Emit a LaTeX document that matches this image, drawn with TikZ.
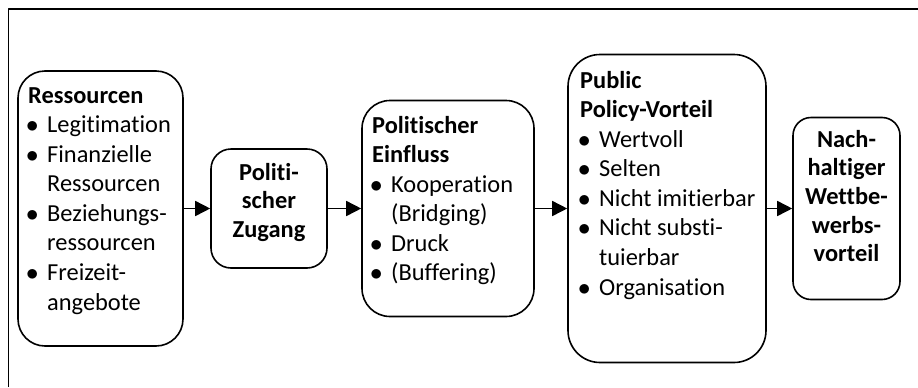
\documentclass[tikz,border=0pt]{standalone}
\usepackage{fontspec}
\setmainfont{Carlito}[Ligatures={NoCommon,TeX}]
\usepackage{array}
\usetikzlibrary{arrows.meta}

\newcommand{\itm}[1]{\hspace*{-2bp}$\bullet$ & #1\\}
\newcommand{\cnt}[1]{& #1\\}
\newcommand{\hd}[1]{\multicolumn{2}{@{}l@{}}{\bfseries #1}\\}

\begin{document}
\begin{tikzpicture}[x=1bp,y=-1bp,>={Triangle[length=15bp,width=15bp]},line join=round]
\tikzset{blockbox/.style={draw,line width=1.6bp,rounded corners=#1},
  listtext/.style={anchor=base west,inner sep=0pt,font=\fontsize{24.5}{29.7}\selectfont},
  midtext/.style={anchor=base,inner sep=0pt,font=\fontsize{24.5}{28.8}\selectfont\bfseries}}
\useasboundingbox (0,0) rectangle (918,387);
%%
\draw [line width=1.6bp] (8.5,387) -- (8.5,9) -- (918,9);
%
\node (ressourcen) at (100.5,208.5) [blockbox=27bp,minimum width=165bp,minimum height=275bp] {};
  \node (zugang) at (269,208.5) [blockbox=20bp,minimum width=116bp,minimum height=119bp] {};
  \node (einfluss) at (448,208.5) [blockbox=28bp,minimum width=172bp,minimum height=216bp] {};
  \node (vorteil) at (667,208.5) [blockbox=32bp,minimum width=198bp,minimum height=308bp] {};
  \node (wettbewerb) at (846.5,208.5) [blockbox=18bp,minimum width=107bp,minimum height=182bp] {};
%
\node (ressourcen text) at (28,103) [listtext] {\begin{tabular}[t]{@{}p{19bp}@{}l@{}}
  \hd{Ressourcen}
  \itm{Legitimation}
  \itm{Finanzielle}
  \cnt{Ressourcen}
  \itm{Beziehungs-}
  \cnt{ressourcen}
  \itm{Freizeit-}
  \cnt{angebote}
  \end{tabular}};
  \node (zugang text) at (269,180) [midtext] {\begin{tabular}[t]{@{}c@{}}
  Politi-\\ scher\\ Zugang
  \end{tabular}};
  \node (einfluss text) at (372,133) [listtext] {\begin{tabular}[t]{@{}p{19bp}@{}l@{}}
  \hd{Politischer}
  \hd{Einfluss}
  \itm{Kooperation}
  \cnt{(Bridging)}
  \itm{Druck}
  \itm{(Buffering)}
  \end{tabular}};
  \node (vorteil text) at (580,88) [listtext] {\begin{tabular}[t]{@{}p{19bp}@{}l@{}}
  \hd{Public}
  \hd{Policy-Vorteil}
  \itm{Wertvoll}
  \itm{Selten}
  \itm{Nicht imitierbar}
  \itm{Nicht substi-}
  \cnt{tuierbar}
  \itm{Organisation}
  \end{tabular}};
  \node (wettbewerb text) at (846.5,147) [midtext] {\begin{tabular}[t]{@{}c@{}}
  Nach-\\ haltiger\\ Wettbe-\\ werbs-\\ vorteil
  \end{tabular}};
%
\draw [black,->,line width=1.6bp] (ressourcen) -- (zugang);
  \draw [black,->,line width=1.6bp] (zugang) -- (einfluss);
  \draw [black,->,line width=1.6bp] (einfluss) -- (vorteil);
  \draw [black,->,line width=1.6bp] (vorteil) -- (wettbewerb);
%
\end{tikzpicture}
\end{document}
